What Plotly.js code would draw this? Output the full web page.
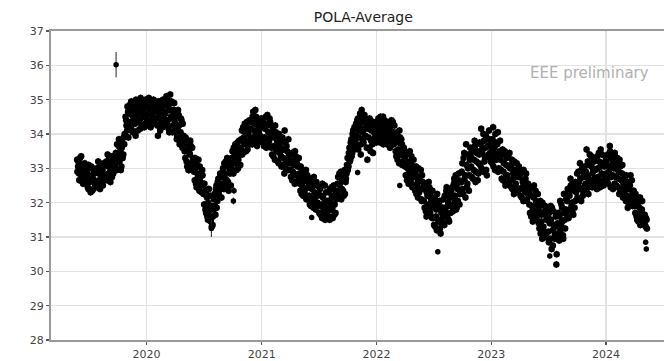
<!DOCTYPE html>
<html>
<head>
<meta charset="utf-8">
<script src="https://cdn.plot.ly/plotly-3.0.1.min.js"></script>
<style>
  html, body { margin: 0; padding: 0; background: #fff; overflow: hidden; }
  #chart { width: 700px; height: 361px; }
</style>
</head>
<body>
<div id="chart"></div>
<script>
// POLA station average: two interleaved reading sets per year,
// each set sampled every 3 days from its own start date
const stepDays = 3;

const start2019a = '2019-05-25';
const pola2019a = [
  33.25, 33.05, 32.85, 33.30, 32.70, 33.10, 32.95, 32.60, 33.15, 32.75,
  32.55, 32.95, 32.40, 32.80, 32.65, 33.05, 32.35, 32.70, 32.90, 32.50,
  32.60, 33.00, 32.45, 32.85, 33.15, 32.70, 32.55, 32.95, 32.75, 33.10,
  32.80, 33.20, 32.65, 33.05, 33.35, 32.90, 33.15, 32.75, 33.30, 33.00,
  33.10, 33.45, 32.95, 33.30, 33.65, 33.20, 33.55, 33.05, 33.75, 33.40,
  33.70, 33.95, 34.40, 34.10, 34.65, 34.30, 34.85, 34.20, 34.55, 34.05,
  34.45, 34.80, 33.95, 34.65, 34.95, 34.35, 34.70, 34.15, 34.60, 34.90,
  34.50, 34.75, 34.30, 34.85
];
const start2019b = '2019-05-26';
const pola2019b = [
  32.90, 33.20, 32.65, 33.00, 33.35, 32.80, 32.55, 33.10, 32.70, 32.95,
  32.85, 32.45, 33.10, 32.60, 32.30, 32.75, 33.00, 32.40, 32.85, 32.60,
  32.90, 32.55, 33.20, 32.65, 32.40, 33.05, 32.80, 32.50, 33.15, 32.65,
  33.10, 32.70, 33.40, 32.85, 33.25, 32.60, 33.05, 33.35, 32.85, 33.20,
  33.35, 33.00, 33.70, 33.20, 33.85, 33.40, 32.95, 33.60, 33.30, 33.90,
  34.00, 34.50, 34.25, 34.80, 33.90, 34.60, 34.35, 34.95, 34.10, 34.70,
  34.75, 34.30, 35.00, 34.55, 34.10, 34.85, 34.40, 35.05, 34.25, 34.70,
  34.65, 34.20, 35.00, 34.45
];

const start2020a = '2020-01-01';
const pola2020a = [
  34.55, 34.90, 34.25, 34.70, 35.00, 34.40, 34.80, 34.30, 34.65, 34.95,
  34.45, 34.85, 33.95, 34.60, 34.95, 34.35, 34.75, 34.20, 34.50, 34.90,
  34.60, 35.10, 34.30, 34.80, 34.05, 35.15, 34.50, 34.90, 34.25, 34.70,
  34.35, 34.65, 33.85, 34.20, 34.55, 33.70, 34.05, 34.40, 33.60, 33.95,
  33.75, 33.30, 33.85, 33.05, 33.55, 32.95, 33.40, 33.65, 33.10, 33.25,
  33.15, 32.65, 33.00, 32.45, 32.85, 33.25, 32.35, 32.75, 32.55, 32.95,
  32.50, 31.95, 32.30, 31.70, 32.15, 31.50, 32.40, 31.85, 31.45, 31.30,
  31.35, 31.80, 32.25, 31.65, 32.50, 32.05, 32.70, 32.20, 32.85, 32.40,
  32.55, 33.00, 32.40, 32.85, 33.20, 32.65, 33.05, 32.35, 32.95, 33.25,
  33.05, 33.50, 32.85, 33.35, 33.70, 33.15, 33.55, 33.00, 33.80, 33.40,
  33.60, 34.10, 33.45, 33.90, 34.30, 33.70, 34.20, 33.55, 34.00, 34.40,
  33.85, 34.35, 33.70, 34.65, 34.10, 33.95, 34.50, 33.65, 34.25, 34.05,
  34.30, 33.80
];
const start2020b = '2020-01-02';
const pola2020b = [
  34.80, 34.35, 35.05, 34.60, 34.20, 34.85, 34.50, 35.00, 34.40, 34.75,
  34.70, 34.25, 34.95, 34.55, 34.10, 34.80, 34.40, 35.00, 34.30, 34.65,
  34.85, 34.40, 35.00, 34.15, 34.70, 34.45, 34.95, 34.05, 34.60, 34.90,
  34.10, 34.50, 33.95, 34.70, 34.25, 33.80, 34.45, 33.90, 34.30, 33.75,
  33.50, 33.90, 33.20, 33.70, 32.95, 33.45, 33.80, 33.15, 33.60, 33.00,
  32.90, 33.30, 32.55, 33.10, 32.75, 32.40, 33.05, 32.60, 32.30, 32.80,
  32.25, 32.55, 31.80, 32.35, 31.60, 32.00, 31.75, 32.20, 31.55, 31.90,
  31.60, 32.10, 31.90, 32.40, 31.85, 32.60, 32.30, 32.55, 32.75, 32.15,
  32.80, 32.45, 33.15, 32.70, 32.50, 33.30, 32.60, 33.10, 32.85, 32.50,
  33.30, 32.90, 33.60, 33.20, 33.45, 32.95, 33.75, 33.25, 33.55, 33.10,
  33.85, 33.40, 34.20, 33.75, 34.05, 33.50, 34.35, 33.80, 34.15, 33.70,
  34.15, 33.80, 34.50, 33.90, 34.30, 34.70, 33.75, 34.40, 33.90, 34.20,
  33.95, 34.45
];

const start2021a = '2021-01-01';
const pola2021a = [
  34.20, 33.75, 34.45, 33.90, 34.30, 33.60, 34.55, 34.05, 33.80, 34.35,
  33.95, 33.40, 34.20, 33.65, 33.25, 34.05, 33.50, 33.85, 33.15, 33.70,
  33.60, 33.05, 33.90, 33.30, 32.85, 33.75, 33.20, 33.50, 32.95, 33.40,
  33.25, 32.75, 33.45, 32.90, 33.10, 32.55, 33.35, 32.80, 33.05, 32.65,
  32.85, 32.35, 33.00, 32.50, 32.20, 32.75, 32.40, 32.95, 32.15, 32.60,
  32.45, 31.95, 32.70, 32.10, 32.55, 31.85, 32.30, 32.00, 32.60, 32.20,
  32.25, 31.70, 32.40, 31.90, 31.55, 32.15, 31.80, 32.50, 31.60, 32.05,
  31.75, 32.30, 31.50, 32.00, 32.45, 31.85, 32.20, 31.65, 32.35, 32.10,
  32.30, 32.75, 32.15, 32.55, 32.90, 32.40, 32.70, 32.20, 32.95, 32.60,
  32.85, 33.30, 33.05, 33.60, 33.25, 33.85, 33.45, 34.10, 33.55, 33.95,
  34.30, 33.65, 34.45, 33.90, 34.20, 33.40, 34.70, 34.05, 33.75, 34.55,
  33.95, 34.35, 33.25, 34.15, 33.60, 34.40, 33.80, 34.25, 33.45, 34.05,
  33.90, 34.30
];
const start2021b = '2021-01-02';
const pola2021b = [
  33.90, 34.40, 33.65, 34.15, 34.50, 33.85, 34.25, 33.70, 34.45, 34.00,
  33.60, 34.10, 33.35, 33.90, 34.25, 33.55, 33.80, 33.20, 34.00, 33.45,
  33.35, 33.80, 33.10, 33.55, 34.10, 33.00, 33.65, 33.25, 33.85, 33.15,
  32.95, 33.40, 32.65, 33.20, 32.85, 33.50, 32.60, 33.15, 32.80, 33.30,
  32.55, 33.05, 32.25, 32.70, 32.90, 32.30, 32.65, 32.10, 32.80, 32.45,
  32.20, 32.65, 31.90, 32.40, 32.05, 32.75, 32.15, 31.80, 32.50, 32.00,
  31.95, 32.45, 31.65, 32.20, 32.55, 31.75, 32.00, 31.50, 32.30, 31.85,
  32.05, 31.60, 32.40, 31.80, 32.15, 31.55, 32.50, 31.95, 31.70, 32.25,
  32.55, 32.20, 32.85, 32.40, 32.10, 32.65, 32.35, 32.80, 32.25, 32.70,
  33.10, 32.95, 33.45, 33.20, 33.75, 33.35, 34.00, 33.65, 34.20, 33.80,
  33.95, 34.40, 33.55, 34.10, 34.60, 33.70, 34.35, 33.85, 34.50, 34.15,
  34.20, 33.60, 34.30, 33.90, 34.45, 33.50, 34.10, 33.70, 34.35, 33.85,
  34.15, 33.75
];

const start2022a = '2022-01-01';
const pola2022a = [
  34.25, 33.85, 34.45, 34.05, 33.75, 34.35, 33.95, 34.50, 34.10, 33.80,
  34.20, 33.70, 34.35, 33.95, 34.15, 33.65, 34.40, 33.85, 34.05, 34.25,
  33.80, 33.35, 34.05, 33.55, 33.15, 33.90, 33.45, 33.70, 33.20, 33.60,
  33.30, 32.80, 33.45, 33.00, 32.55, 33.20, 32.70, 33.35, 32.45, 32.95,
  32.90, 32.35, 33.05, 32.55, 32.15, 32.75, 32.40, 32.95, 32.05, 32.60,
  32.40, 31.85, 32.55, 31.60, 32.20, 31.95, 32.45, 31.70, 32.10, 31.55,
  31.90, 31.35, 32.15, 31.60, 31.20, 31.85, 31.45, 32.05, 31.10, 31.70,
  31.55, 32.10, 31.35, 31.80, 32.35, 31.65, 32.00, 31.45, 32.25, 31.90,
  32.15, 31.75, 32.55, 32.00, 32.80, 31.85, 32.40, 32.65, 31.95, 32.30,
  32.60, 33.15, 32.25, 33.45, 32.80, 33.70, 32.45, 33.00, 32.35, 33.25,
  33.35, 32.75, 33.60, 32.95, 33.80, 32.60, 33.20, 33.50, 32.85, 33.40,
  33.10, 34.15, 33.55, 32.90, 33.80, 33.30, 33.95, 32.80, 33.65, 33.40,
  33.85, 33.20
];
const start2022b = '2022-01-02';
const pola2022b = [
  33.95, 34.35, 33.80, 34.20, 34.50, 33.90, 34.30, 33.70, 34.40, 34.00,
  33.85, 34.30, 33.75, 34.10, 33.60, 34.25, 33.90, 34.35, 33.70, 33.95,
  33.50, 33.95, 33.25, 33.75, 34.10, 33.40, 33.85, 33.10, 33.55, 33.35,
  33.05, 33.40, 32.65, 33.15, 32.85, 33.50, 32.60, 33.10, 32.75, 33.25,
  32.50, 32.85, 32.25, 32.70, 33.00, 32.30, 32.65, 32.10, 32.80, 32.45,
  32.05, 32.50, 31.75, 32.30, 31.90, 32.60, 31.65, 32.25, 31.85, 32.35,
  31.55, 32.00, 31.30, 31.80, 32.25, 31.50, 31.95, 31.25, 31.75, 31.40,
  31.85, 31.40, 32.20, 31.60, 32.45, 31.90, 31.50, 32.15, 31.70, 32.35,
  32.45, 31.95, 32.70, 32.20, 31.80, 32.55, 32.05, 32.85, 32.25, 32.60,
  32.90, 32.40, 33.30, 32.70, 32.15, 33.10, 32.55, 33.40, 32.80, 33.60,
  33.05, 33.50, 32.70, 33.25, 33.65, 32.90, 33.45, 32.65, 33.15, 33.75,
  33.70, 33.00, 33.45, 34.00, 33.20, 33.60, 32.95, 33.85, 33.35, 34.10,
  33.45, 33.70
];

const start2023a = '2023-01-01';
const pola2023a = [
  33.60, 33.15, 34.20, 33.45, 32.95, 33.75, 33.30, 34.05, 33.00, 33.50,
  33.25, 32.70, 33.55, 32.90, 33.40, 32.50, 33.10, 32.80, 33.35, 32.60,
  33.00, 32.45, 33.25, 32.70, 32.25, 32.95, 32.55, 33.15, 32.35, 32.85,
  32.75, 32.20, 32.90, 32.45, 32.05, 32.65, 32.30, 32.85, 32.10, 32.55,
  32.30, 31.70, 32.45, 31.90, 31.45, 32.15, 31.65, 32.35, 31.55, 31.95,
  31.80, 31.25, 32.05, 31.45, 30.95, 31.70, 31.15, 31.90, 31.05, 31.55,
  31.60, 30.85, 31.40, 31.90, 30.65, 31.20, 31.75, 30.95, 31.30, 30.20,
  31.10, 31.70, 30.90, 32.05, 31.35, 31.85, 31.05, 32.25, 31.50, 31.80,
  31.75, 32.40, 31.55, 32.20, 32.70, 31.90, 32.55, 31.65, 32.35, 32.05,
  32.30, 32.85, 32.10, 32.60, 33.15, 32.40, 32.95, 32.20, 32.75, 33.05,
  32.55, 33.55, 32.80, 32.25, 33.10, 32.65, 33.35, 32.45, 32.95, 33.20,
  32.70, 33.25, 32.40, 33.00, 33.45, 32.60, 33.55, 32.85, 33.15, 32.50,
  33.05, 32.75
];
const start2023b = '2023-01-02';
const pola2023b = [
  33.35, 33.85, 33.05, 33.60, 34.00, 33.25, 33.70, 32.90, 33.45, 33.80,
  32.95, 33.40, 32.65, 33.15, 33.50, 32.75, 33.30, 32.55, 33.05, 33.45,
  32.65, 33.10, 32.40, 32.85, 33.20, 32.50, 32.95, 32.30, 32.75, 33.05,
  32.40, 32.85, 32.15, 32.60, 32.95, 32.35, 32.70, 32.05, 32.50, 32.25,
  31.95, 32.40, 31.60, 32.20, 31.80, 32.50, 31.50, 32.05, 31.70, 32.25,
  31.40, 31.90, 31.10, 31.65, 32.00, 31.30, 31.75, 31.00, 31.50, 31.85,
  31.15, 31.70, 30.95, 31.50, 31.85, 30.75, 31.35, 31.05, 31.60, 30.50,
  31.40, 30.95, 31.60, 31.20, 31.95, 31.45, 30.95, 31.70, 31.25, 32.10,
  32.05, 31.60, 32.30, 31.80, 32.50, 32.00, 31.70, 32.45, 31.85, 32.60,
  32.55, 32.15, 32.90, 32.45, 32.70, 32.05, 33.00, 32.35, 32.80, 32.50,
  32.90, 32.40, 33.20, 32.70, 33.40, 32.50, 33.05, 32.85, 33.30, 32.60,
  32.95, 32.55, 33.35, 32.75, 33.20, 32.45, 33.05, 33.40, 32.65, 33.10,
  32.80, 33.30
];

const start2024a = '2024-01-01';
const pola2024a = [
  33.20, 32.65, 33.40, 32.90, 33.65, 32.45, 33.10, 32.80, 33.35, 32.55,
  33.00, 32.50, 33.30, 32.70, 32.25, 33.05, 32.40, 32.85, 32.15, 32.60,
  32.75, 32.05, 32.55, 31.85, 32.40, 32.10, 32.80, 31.95, 32.30, 32.00,
  32.20, 31.70, 32.05, 31.50, 31.90, 31.60, 32.15, 31.40, 31.80, 31.55,
  31.45, 31.65, 31.30, 31.50
];
const start2024b = '2024-01-02';
const pola2024b = [
  32.85, 33.30, 32.55, 33.05, 33.50, 32.75, 33.25, 32.40, 33.00, 33.45,
  32.75, 33.15, 32.45, 32.90, 33.25, 32.35, 32.65, 33.10, 32.55, 32.30,
  32.45, 32.80, 32.20, 32.60, 31.95, 32.50, 32.15, 32.65, 31.90, 32.35,
  31.90, 32.25, 31.60, 32.00, 31.45, 31.85, 31.35, 31.75, 32.05, 31.50,
  31.60, 31.35, 31.55, 31.25
];

// isolated readings with their uncertainty
const sparseDates  = ['2019-09-26', '2020-07-25', '2020-10-03', '2020-10-05', '2021-06-09',
                      '2021-11-02', '2022-03-16', '2022-07-15', '2023-07-06', '2024-05-06', '2024-05-08'];
const sparseValues = [36.02, 31.25, 32.05, 32.35, 31.57, 32.88, 32.50, 30.57, 30.45, 30.85, 30.65];
const sparseErrors = [0.37, 0.25, 0.10, 0.10, 0.08, 0.08, 0.08, 0.08, 0.08, 0.08, 0.08];

const yTicks = [28, 29, 30, 31, 32, 33, 34, 35, 36, 37];
const xTicks = ['2020-01-01', '2021-01-01', '2022-01-01', '2023-01-01', '2024-01-01'];
const xTickText = ['2020', '2021', '2022', '2023', '2024'];

function datesFrom(start, count, step) {
  const base = new Date(start + 'T00:00:00Z').getTime();
  const out = [];
  for (let i = 0; i < count; i++) {
    const d = new Date(base + i * step * 86400000);
    out.push(d.toISOString().slice(0, 10));
  }
  return out;
}

const blocks = [
  [start2019a, pola2019a], [start2019b, pola2019b],
  [start2020a, pola2020a], [start2020b, pola2020b],
  [start2021a, pola2021a], [start2021b, pola2021b],
  [start2022a, pola2022a], [start2022b, pola2022b],
  [start2023a, pola2023a], [start2023b, pola2023b],
  [start2024a, pola2024a], [start2024b, pola2024b]
];
let xs = [], ys = [];
blocks.forEach(([s, v]) => {
  xs = xs.concat(datesFrom(s, v.length, stepDays));
  ys = ys.concat(v);
});

const mainTrace = {
  type: 'scatter', mode: 'markers', x: xs, y: ys,
  marker: { color: '#000', size: 6.5 },
  error_y: { type: 'constant', value: 0.1, color: '#000', thickness: 1, width: 0 },
  hoverinfo: 'skip'
};

const sparseTrace = {
  type: 'scatter', mode: 'markers', x: sparseDates, y: sparseValues,
  marker: { color: '#000', size: 5.5 },
  error_y: { type: 'data', array: sparseErrors, visible: true, color: '#222', thickness: 1, width: 0 },
  hoverinfo: 'skip'
};

const axisLine = '#9a9a9a';
const gridCol = '#e2e2e2';
const tickFont = { family: 'DejaVu Sans, sans-serif', size: 11, color: '#444' };

const layout = {
  width: 700, height: 361,
  margin: { l: 51, r: 10, t: 31, b: 21 },
  paper_bgcolor: '#fff', plot_bgcolor: '#fff',
  showlegend: false,
  title: {
    text: 'POLA-Average',
    font: { family: 'DejaVu Sans, sans-serif', size: 14, color: '#222' },
    xref: 'container', x: 0.519, xanchor: 'center',
    yref: 'container', y: 0.953, yanchor: 'middle'
  },
  xaxis: {
    type: 'date', range: ['2019-03-03', '2024-09-24'],
    tickvals: xTicks, ticktext: xTickText,
    showgrid: true, gridcolor: gridCol, gridwidth: 1.5,
    showline: true, linecolor: axisLine, linewidth: 2, mirror: true,
    ticks: 'outside', ticklen: 3, tickcolor: '#555', tickwidth: 1.5,
    tickfont: tickFont, zeroline: false, fixedrange: true
  },
  yaxis: {
    range: [28, 37], tickvals: yTicks,
    showgrid: true, gridcolor: gridCol, gridwidth: 1.5,
    showline: true, linecolor: axisLine, linewidth: 2, mirror: true,
    ticks: 'outside', ticklen: 3, tickcolor: '#555', tickwidth: 1.5,
    tickfont: tickFont, zeroline: false, fixedrange: true
  },
  annotations: [{
    text: 'EEE preliminary', xref: 'paper', yref: 'y',
    x: 0.8435, y: 35.79, xanchor: 'center', yanchor: 'middle',
    showarrow: false,
    font: { family: 'DejaVu Sans, sans-serif', size: 15, color: '#b0b0b0' }
  }]
};

Plotly.newPlot('chart', [mainTrace, sparseTrace], layout, { staticPlot: true, displayModeBar: false });
</script>
</body>
</html>
